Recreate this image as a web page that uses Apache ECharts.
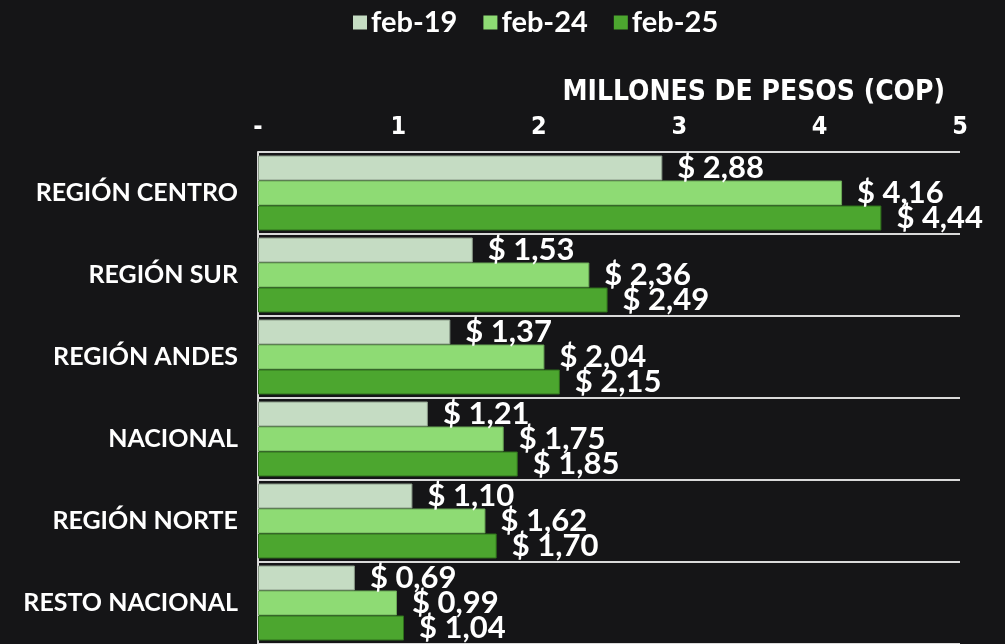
<!DOCTYPE html>
<html>
<head>
<meta charset="utf-8">
<script src="https://cdn.jsdelivr.net/npm/echarts@6/dist/echarts.min.js"></script>
<style>
  html, body { margin: 0; padding: 0; background: #151517; }
  #chart { width: 1005px; height: 644px; }
</style>
</head>
<body>
<div id="chart"></div>
<script>
const categories = ['REGIÓN CENTRO', 'REGIÓN SUR', 'REGIÓN ANDES', 'NACIONAL', 'REGIÓN NORTE', 'RESTO NACIONAL'];
const feb19 = [2.88, 1.53, 1.37, 1.21, 1.10, 0.69];
const feb24 = [4.16, 2.36, 2.04, 1.75, 1.62, 0.99];
const feb25 = [4.44, 2.49, 2.15, 1.85, 1.70, 1.04];
const tickLabels = ['-', '1', '2', '3', '4', '5'];

const narrowFont = '"Liberation Sans Narrow", "DejaVu Sans Condensed", "Roboto Condensed", Roboto, sans-serif';

const chart = echarts.init(document.getElementById('chart'), null, { renderer: 'canvas' });

const valueLabel = {
  show: true,
  position: 'right',
  distance: 15,
  color: '#ffffff',
  fontFamily: 'Lato',
  fontWeight: 'bold',
  fontSize: 31,
  formatter: (p) => '$ ' + p.value.toFixed(2).replace('.', ',')
};

const makeSeries = (name, data, color, border) => ({
  name,
  type: 'bar',
  data,
  barWidth: 25,
  barGap: '0%',
  itemStyle: { color, borderColor: border, borderWidth: 1 },
  label: valueLabel
});

const option = {
  animation: false,
  backgroundColor: '#151517',
  title: {
    text: 'MILLONES DE PESOS (COP)',
    right: 55,
    top: 74,
    textStyle: { color: '#ffffff', fontFamily: narrowFont, fontWeight: 'bold', fontSize: 28 }
  },
  legend: {
    top: 3,
    left: 348,
    itemWidth: 14,
    itemHeight: 14,
    itemGap: 26,
    icon: 'rect',
    itemStyle: { borderWidth: 0 },
    textStyle: { color: '#ffffff', fontFamily: 'Lato', fontWeight: 'bold', fontSize: 29, padding: [0, 0, 0, -1] }
  },
  grid: { left: 258, right: 45, top: 152, height: 498, containLabel: false },
  xAxis: {
    type: 'value',
    position: 'top',
    min: 0,
    max: 5,
    interval: 1,
    axisLine: { show: false },
    axisTick: { show: false },
    splitLine: { show: false },
    axisLabel: {
      color: '#ffffff',
      margin: 12,
      fontFamily: narrowFont,
      fontWeight: 'bold',
      fontSize: 25,
      formatter: (v) => tickLabels[Math.round(v)]
    }
  },
  yAxis: {
    type: 'category',
    inverse: true,
    data: categories,
    axisLine: { show: true, lineStyle: { color: '#d9d9d9', width: 2 } },
    axisTick: { show: false },
    splitLine: { show: true, lineStyle: { color: '#d9d9d9', width: 2 } },
    axisLabel: {
      color: '#ffffff',
      margin: 20,
      fontFamily: 'Lato',
      fontWeight: 'bold',
      fontSize: 25
    }
  },
  series: [
    makeSeries('feb-19', feb19, '#c5dcc3', '#8a9a88'),
    makeSeries('feb-24', feb24, '#8edb74', '#6aa856'),
    makeSeries('feb-25', feb25, '#4ca62f', '#2f6e1c')
  ]
};

chart.setOption(option);
</script>
</body>
</html>
